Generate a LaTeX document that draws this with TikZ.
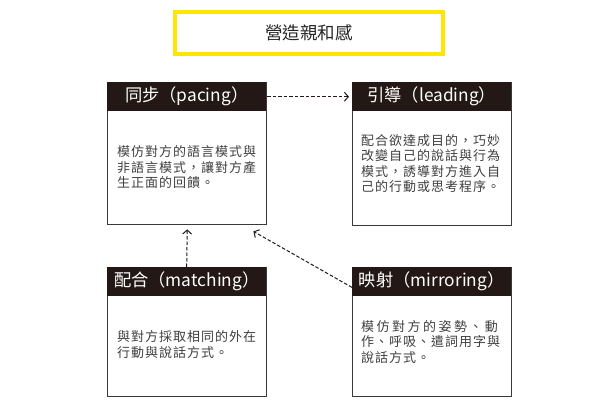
\documentclass[tikz,border=0pt]{standalone}
\usepackage{fontspec}
\setmainfont{Noto Sans CJK TC}
\usetikzlibrary{arrows.meta,calc}
\definecolor{hdrcol}{HTML}{231815}
\definecolor{linecol}{HTML}{3A3A3A}
\definecolor{txtcol}{HTML}{404040}
\definecolor{ylw}{HTML}{FFE600}
\begin{document}
\begin{tikzpicture}[x=1pt,y=-1pt,
 hdr/.style={fill=hdrcol, text=white, minimum width=159pt, minimum height=29pt, inner sep=0pt, anchor=north west, font=\fontsize{17.3}{20}\selectfont},
 panel/.style={draw=linecol, line width=1.4pt, minimum width=159pt, anchor=north west, inner sep=0pt},
 bodytxt/.style={anchor=west, align=left, inner sep=0pt, text=txtcol, font=\fontsize{13}{15.6}\selectfont\addfontfeature{LetterSpace=7.7}},
 link/.style={draw=hdrcol, line width=1pt, dash pattern=on 3.5pt off 2pt, -{Straight Barb[length=4pt,width=9pt]}}
]
\path[fill=white] (0,0) rectangle (600,404);
% title
\node[draw=ylw, line width=4pt, minimum width=268pt, minimum height=42pt, text=black!85, font=\fontsize{17.5}{20}\selectfont] (title) at (309,33) {營造親和感};
% panels
\node[panel, minimum height=142pt] (pp) at (107,82) {};
\node[panel, minimum height=143pt] (lp) at (352,82) {};
\node[panel, minimum height=129pt] (mp) at (107,267) {};
\node[panel, minimum height=129pt] (rp) at (352,267) {};
% headers
\node[hdr] (ph) at (107,82) {同步（pacing）};
\node[hdr] (lh) at (352,82) {引導（leading）};
\node[hdr] (mh) at (107,267) {配合（matching）};
\node[hdr] (rh) at (352,267) {映射（mirroring）};
% body text
\node[bodytxt] (pt) at (117,167.3) {模仿對方的語言模式與\\非語言模式，讓對方產\\生正面的回饋。};
\node[bodytxt] (lt) at (361,163.5) {配合欲達成目的，巧妙\\改變自己的說話與行為\\模式，誘導對方進入自\\己的行動或思考程序。};
\node[bodytxt] (mt) at (117,344.5) {與對方採取相同的外在\\行動與說話方式。};
\node[bodytxt] (rt) at (361,342) {{\addfontfeature{LetterSpace=19}模仿對方的姿勢、動}\\作、呼吸、遣詞用字與\\說話方式。};
% connectors
\draw[link] ([xshift=1pt]ph.east) -- ([xshift=-3pt]lh.west);
\draw[link] (mh.north) -- ([yshift=-4pt]pp.south);
\draw[link] ([yshift=9pt]rh.south west) -- ($(pp.south east)+(-14,6)$);
\end{tikzpicture}
\end{document}
